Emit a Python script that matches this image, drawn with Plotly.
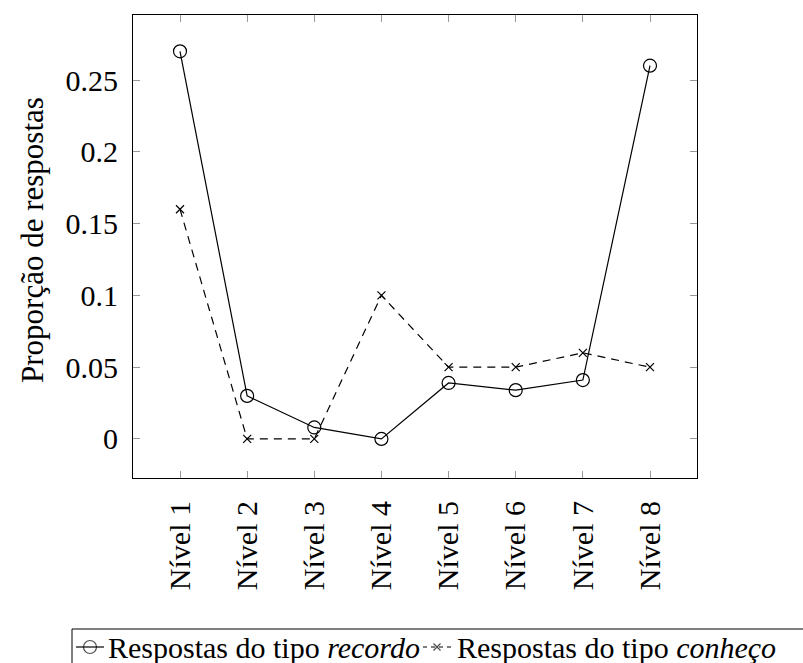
import plotly.graph_objects as go

levels = ["Nível 1", "Nível 2", "Nível 3", "Nível 4", "Nível 5", "Nível 6", "Nível 7", "Nível 8"]
recordo = [0.27, 0.03, 0.008, 0.0, 0.039, 0.034, 0.041, 0.26]
conheco = [0.16, 0.0, 0.0, 0.10, 0.05, 0.05, 0.06, 0.05]
y_ticks = [0, 0.05, 0.1, 0.15, 0.2, 0.25]
y_ticktext = ["0", "0.05", "0.1", "0.15", "0.2", "0.25"]
series_names = ["Respostas do tipo <i>recordo</i>", "Respostas do tipo <i>conheço</i>"]
y_title = "Proporção de respostas"

W, H = 803, 663
FONT = "'Liberation Serif', 'DejaVu Serif', serif"
FS = 30

fig = go.Figure()
xpos = list(range(1, len(levels) + 1))
fig.add_trace(go.Scatter(
    x=xpos, y=recordo, mode="lines+markers", name=series_names[0],
    line=dict(color="black", width=1.2),
    marker=dict(symbol="circle-open", size=13, color="black", line=dict(width=1.2)),
    showlegend=False,
))
fig.add_trace(go.Scatter(
    x=xpos, y=conheco, mode="lines+markers", name=series_names[1],
    line=dict(color="black", width=1.2, dash="8px,6px"),
    marker=dict(symbol="x-thin", size=8, color="black", line=dict(width=1.2, color="black")),
    showlegend=False,
))

# legend samples on an overlay pixel axis
ly = 647
fig.add_trace(go.Scatter(
    x=[76, 90, 104], y=[ly, ly, ly], xaxis="x2", yaxis="y2", mode="lines+markers",
    line=dict(color="black", width=1.2),
    marker=dict(symbol="circle-open", size=[0, 13, 0], color="black", line=dict(width=1.2)),
    showlegend=False, hoverinfo="skip",
))
fig.add_trace(go.Scatter(
    x=[423, 437, 451], y=[ly, ly, ly], xaxis="x2", yaxis="y2", mode="lines+markers",
    line=dict(color="black", width=1.2, dash="4px,4px"),
    marker=dict(symbol="x-thin", size=[0, 7, 0], color="black", line=dict(width=1.2, color="black")),
    showlegend=False, hoverinfo="skip",
))

annotations = [
    dict(x=106, y=ly, xref="x2", yref="y2", text=series_names[0], showarrow=False,
         xanchor="left", yanchor="middle", font=dict(family=FONT, size=FS, color="black")),
    dict(x=455, y=ly, xref="x2", yref="y2", text=series_names[1], showarrow=False,
         xanchor="left", yanchor="middle", font=dict(family=FONT, size=FS, color="black")),
    dict(x=32, y=240, xref="x2", yref="y2", text=y_title, showarrow=False, textangle=-90,
         xanchor="center", yanchor="middle", font=dict(family=FONT, size=31, color="black")),
]

shapes = [
    dict(type="rect", xref="x2", yref="y2", x0=72, x1=830, y0=629, y1=700,
         line=dict(color="black", width=1), fillcolor="rgba(0,0,0,0)"),
]

fig.update_layout(
    width=W, height=H,
    margin=dict(l=0, r=0, t=0, b=0),
    paper_bgcolor="white", plot_bgcolor="rgba(0,0,0,0)",
    font=dict(family=FONT, color="black"),
    showlegend=False,
    xaxis=dict(
        domain=[133 / W, 697 / W], range=[0.3, 8.7],
        tickmode="array", tickvals=xpos, ticktext=levels, tickangle=-90,
        ticks="inside", ticklen=7, tickcolor="#999999", tickwidth=1,
        showline=True, linecolor="black", linewidth=1, mirror="ticks",
        showgrid=False, zeroline=False,
        tickfont=dict(family=FONT, size=FS, color="black"),
        ticklabelstandoff=10,
    ),
    yaxis=dict(
        domain=[(H - 478) / H, (H - 15) / H], range=[-0.0272, 0.2953],
        tickmode="array", tickvals=y_ticks, ticktext=y_ticktext,
        ticks="inside", ticklen=7, tickcolor="#999999", tickwidth=1,
        showline=True, linecolor="black", linewidth=1, mirror="ticks",
        showgrid=False, zeroline=False,
        tickfont=dict(family=FONT, size=FS, color="black"),
        ticklabelstandoff=8,
    ),
    xaxis2=dict(domain=[0, 1], range=[0, W], visible=False, fixedrange=True, anchor="y2"),
    yaxis2=dict(domain=[0, 1], range=[H, 0], visible=False, fixedrange=True, anchor="x2"),
    annotations=annotations,
    shapes=shapes,
)

fig.write_html("out.html")
